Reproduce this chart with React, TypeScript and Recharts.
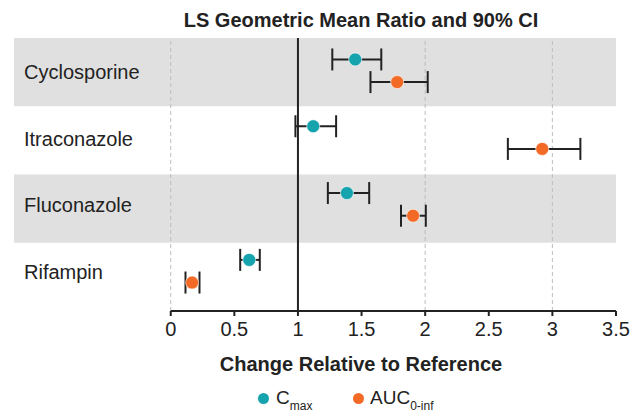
import {
  ScatterChart,
  Scatter,
  XAxis,
  YAxis,
  ErrorBar,
  ReferenceArea,
  ReferenceLine,
} from 'recharts';

const drugs = ['Cyclosporine', 'Itraconazole', 'Fluconazole', 'Rifampin'];

const cmaxRatio = [1.45, 1.12, 1.385, 0.617];
const cmaxLower = [1.27, 0.98, 1.235, 0.546];
const cmaxUpper = [1.655, 1.3, 1.56, 0.7];

const aucRatio = [1.78, 2.92, 1.905, 0.168];
const aucLower = [1.57, 2.65, 1.81, 0.116];
const aucUpper = [2.02, 3.22, 2.005, 0.226];

const xTicks = [0, 0.5, 1, 1.5, 2, 2.5, 3, 3.5];

const TEAL = '#15a3ae';
const ORANGE = '#f26a25';
const INK = '#222';
const FONT = '"Liberation Sans", Arial, sans-serif';

// row layout (y axis runs 0..4, one unit per band)
const ROW_START = 0.48;
const ROW_STEP = 0.979;
const PAIR_OFFSET = 0.166;
const rowCenter = (i: number) => ROW_START + i * ROW_STEP;

const cmaxData = drugs.map((d, i) => ({
  name: d,
  x: cmaxRatio[i],
  y: rowCenter(i) - PAIR_OFFSET,
  err: [cmaxRatio[i] - cmaxLower[i], cmaxUpper[i] - cmaxRatio[i]],
}));

const aucData = drugs.map((d, i) => ({
  name: d,
  x: aucRatio[i],
  y: rowCenter(i) + PAIR_OFFSET,
  err: [aucRatio[i] - aucLower[i], aucUpper[i] - aucRatio[i]],
}));

const dot = (color: string) => (props: any) => (
  <circle cx={props.cx} cy={props.cy} r={6.5} fill={color} stroke="#fff" strokeWidth={0.6} />
);

// drug names sit inside the plot, left aligned
const DrugLabel = (props: any) => {
  const { y, index } = props;
  return (
    <text x={24} y={y + 1} dominantBaseline="central" fontSize={20} fill={INK} fontFamily={FONT}>
      {drugs[index]}
    </text>
  );
};

const subStyle = { fontSize: 12, verticalAlign: '-6px', lineHeight: 0 };

export default function App() {
  return (
    <div style={{ position: 'absolute', left: 0, top: 0, width: 641, height: 414, background: '#fff', fontFamily: FONT }}>
      <div
        style={{
          position: 'absolute',
          left: 361,
          top: 9,
          transform: 'translateX(-50%)',
          whiteSpace: 'nowrap',
          fontSize: 20,
          fontWeight: 700,
          color: INK,
        }}
      >
        LS Geometric Mean Ratio and 90% CI
      </div>

      <ScatterChart width={641} height={414} margin={{ top: 38, right: 25, bottom: 73, left: 13 }}>
        <XAxis
          type="number"
          dataKey="x"
          domain={[-1.232, 3.5]}
          ticks={xTicks}
          allowDataOverflow
          axisLine={false}
          tickLine={{ stroke: INK, strokeWidth: 2 }}
          tickSize={5}
          tickMargin={6}
          height={30}
          tick={{ fontSize: 20, fill: INK, fontFamily: FONT }}
          tickFormatter={(v) => String(v)}
        />
        <YAxis
          type="number"
          dataKey="y"
          domain={[0, 4]}
          reversed
          ticks={drugs.map((_, i) => rowCenter(i))}
          interval={0}
          width={1}
          axisLine={false}
          tickLine={false}
          tick={<DrugLabel />}
        />

        <ReferenceArea y1={0} y2={1} fill="#e0e0e0" fillOpacity={1} stroke="none" />
        <ReferenceArea y1={2} y2={3} fill="#e0e0e0" fillOpacity={1} stroke="none" />

        <ReferenceLine x={0} stroke="#bdbdbd" strokeDasharray="4 3" />
        <ReferenceLine x={2} stroke="#bdbdbd" strokeDasharray="4 3" />
        <ReferenceLine x={3} stroke="#bdbdbd" strokeDasharray="4 3" />
        <ReferenceLine x={1} stroke={INK} strokeWidth={2} />
        <ReferenceLine
          segment={[
            { x: 0, y: 4 },
            { x: 3.5, y: 4 },
          ]}
          stroke={INK}
          strokeWidth={2}
        />

        <Scatter data={cmaxData} shape={dot(TEAL)} isAnimationActive={false}>
          <ErrorBar dataKey="err" direction="x" width={11} stroke={INK} strokeWidth={2} isAnimationActive={false} />
        </Scatter>
        <Scatter data={aucData} shape={dot(ORANGE)} isAnimationActive={false}>
          <ErrorBar dataKey="err" direction="x" width={11} stroke={INK} strokeWidth={2} isAnimationActive={false} />
        </Scatter>
      </ScatterChart>

      <div
        style={{
          position: 'absolute',
          left: 361,
          top: 353,
          transform: 'translateX(-50%)',
          whiteSpace: 'nowrap',
          fontSize: 20,
          fontWeight: 700,
          color: INK,
        }}
      >
        Change Relative to Reference
      </div>

      {/* legend */}
      <span style={{ position: 'absolute', left: 258, top: 393, width: 11, height: 11, borderRadius: '50%', background: TEAL }} />
      <div style={{ position: 'absolute', left: 276, top: 388, fontSize: 19, lineHeight: '20px', color: INK, whiteSpace: 'nowrap' }}>
        C<span style={subStyle}>max</span>
      </div>
      <span style={{ position: 'absolute', left: 353, top: 393, width: 11, height: 11, borderRadius: '50%', background: ORANGE }} />
      <div style={{ position: 'absolute', left: 370, top: 388, fontSize: 19, lineHeight: '20px', color: INK, whiteSpace: 'nowrap' }}>
        AUC<span style={subStyle}>0-inf</span>
      </div>
    </div>
  );
}
